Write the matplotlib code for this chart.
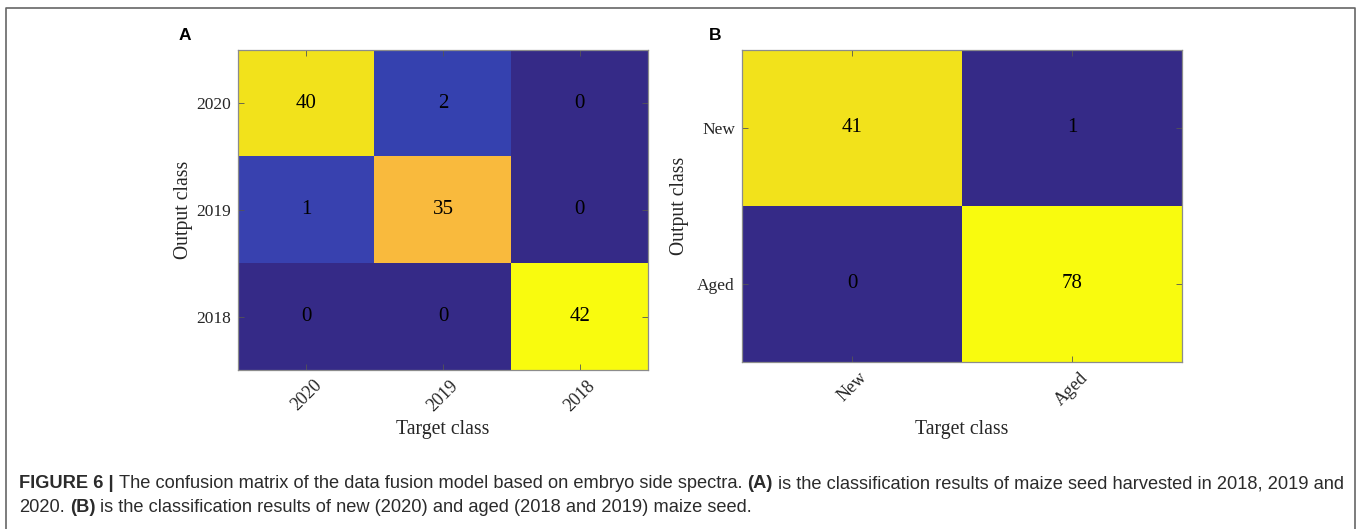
import numpy as np
import matplotlib
matplotlib.use("Agg")
import matplotlib.pyplot as plt
from matplotlib.colors import LinearSegmentedColormap
from matplotlib.lines import Line2D

# panel A: three harvest years
years = ["2020", "2019", "2018"]
counts_a = np.array([[40, 2, 0],
                     [1, 35, 0],
                     [0, 0, 42]])

# panel B: new vs aged
ages = ["New", "Aged"]
counts_b = np.array([[41, 1],
                     [0, 78]])

caption_1 = [("FIGURE 6 |", True),
             ("The confusion matrix of the data fusion model based on embryo side spectra.", False),
             ("(A)", True),
             ("is the classification results of maize seed harvested in 2018, 2019 and", False)]
caption_2 = [("2020.", False),
             ("(B)", True),
             ("is the classification results of new (2020) and aged (2018 and 2019) maize seed.", False)]

# parula-like colormap
parula = LinearSegmentedColormap.from_list("parula", [
    (0.0, "#352a87"), (0.025, "#3943b2"), (0.05, "#3541af"), (0.125, "#0363e1"),
    (0.25, "#1485d4"), (0.375, "#06a7c6"), (0.5, "#38b99e"), (0.625, "#92bf73"),
    (0.75, "#d9ba56"), (0.84, "#fbba3c"), (0.95, "#f2e21b"), (0.98, "#f3e31c"),
    (1.0, "#f9fb0e")])

W, H = 1357, 529
fig = plt.figure(figsize=(W / 100, H / 100), dpi=100)

serif = "Liberation Serif"
txt = "#262626"


def px_axes(l, t, r, b):
    return fig.add_axes([l / W, 1 - b / H, (r - l) / W, (b - t) / H])


def draw_matrix(ax, counts, labels, clim, ylab_x, xlab_y):
    ax.imshow(counts, cmap=parula, vmin=clim[0], vmax=clim[1], aspect="auto",
              interpolation="nearest")
    n = len(labels)
    for i in range(n):
        for j in range(n):
            ax.text(j, i, str(counts[i, j]), ha="center", va="center",
                    fontsize=15, family=serif, color="black")
    ax.set_xticks(range(n))
    ax.set_yticks(range(n))
    ax.set_xticklabels(labels, rotation=45, ha="center", fontsize=13,
                       family=serif, color=txt)
    ax.set_yticklabels(labels, fontsize=12.5, family=serif, color=txt)
    ax.tick_params(direction="in", length=4, width=0.6, color="#555555",
                   top=True, right=True, pad=5)
    for s in ax.spines.values():
        s.set_color("#8c8c8c")
        s.set_linewidth(0.9)
    ax.set_xlabel("Target class", fontsize=14.2, family=serif, color=txt)
    ax.set_ylabel("Output class", fontsize=14.2, family=serif, color=txt)
    ax.xaxis.set_label_coords(0.5, xlab_y)
    ax.yaxis.set_label_coords(ylab_x, 0.5)


ax_a = px_axes(238, 50, 648, 370)
draw_matrix(ax_a, counts_a, years, (0, 42), (193 - 238) / 410, (370 - 420) / 320)

ax_b = px_axes(742, 50, 1182, 362)
draw_matrix(ax_b, counts_b, ages, (1, 42), (689 - 742) / 440, (362 - 420) / 312)

fig.text(185 / W, 1 - 35 / H, "A", fontsize=12.5, fontweight="bold",
         family="Liberation Sans", ha="center", va="center")
fig.text(715 / W, 1 - 35 / H, "B", fontsize=12.5, fontweight="bold",
         family="Liberation Sans", ha="center", va="center")

# outer frame (left, top, right)
fx = [6 / W, 6 / W, 1355 / W, 1355 / W]
fy = [0, 1 - 8 / H, 1 - 8 / H, 0]
fig.add_artist(Line2D(fx, fy, transform=fig.transFigure, color="#666666", lw=1.2))

# caption with mixed bold / regular runs
renderer = fig.canvas.get_renderer()
cap_family = ["Liberation Sans Narrow", "Liberation Sans"]


def run_width(parts, size):
    total = 0
    for s, bold in parts:
        t = fig.text(0, 0, s, fontsize=size, family=cap_family,
                     fontweight="bold" if bold else "normal")
        total += t.get_window_extent(renderer).width
        t.remove()
    sp = fig.text(0, 0, "a a", fontsize=size, family=cap_family)
    sp2 = fig.text(0, 0, "aa", fontsize=size, family=cap_family)
    gap = sp.get_window_extent(renderer).width - sp2.get_window_extent(renderer).width
    sp.remove()
    sp2.remove()
    return total + gap * (len(parts) - 1), gap


def draw_run(parts, x, y, size):
    _, gap = run_width(parts, size)
    for s, bold in parts:
        t = fig.text(x / W, 1 - y / H, s, fontsize=size, family=cap_family,
                     fontweight="bold" if bold else "normal", color="#2b2b2b",
                     va="center", ha="left")
        x += t.get_window_extent(renderer).width + gap


base = 11
w1, _ = run_width(caption_1, base)
cap_size = base * (1344 - 19) / w1
draw_run(caption_1, 19, 484, cap_size)
draw_run(caption_2, 19, 508, cap_size)

fig.savefig("out.png", dpi=100)
